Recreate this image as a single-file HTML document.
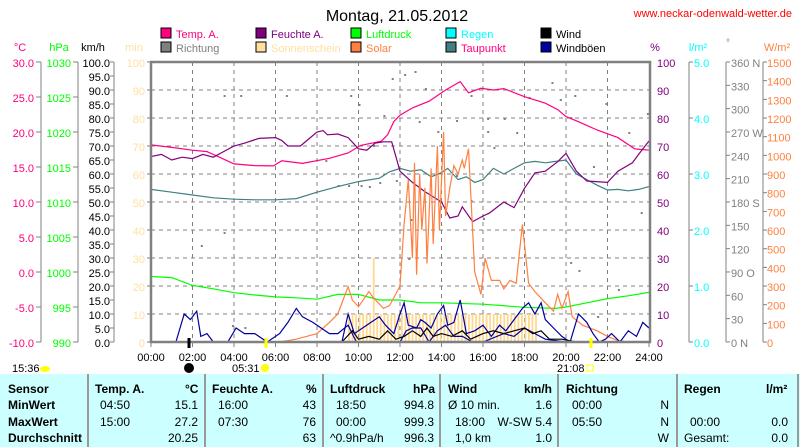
<!DOCTYPE html>
<html><head><meta charset="utf-8"><style>
body{margin:0;background:#fff;width:800px;height:447px;overflow:hidden;font-family:"Liberation Sans",sans-serif}
svg text{font-family:"Liberation Sans",sans-serif}
#tbl{position:absolute;left:0;top:374px;width:800px;height:73px;background:#ccffff}
#tbl div{position:absolute;font-size:12px;color:#000;white-space:nowrap}
.b{font-weight:bold}
.sep{position:absolute;top:0;width:2px;height:73px;background:#999}
</style></head><body>
<svg id="s" width="800" height="374" style="position:absolute;left:0;top:0" xmlns="http://www.w3.org/2000/svg"></svg>
<div id="tbl">
<div class="sep" style="left:87px"></div><div class="sep" style="left:204px"></div><div class="sep" style="left:322px"></div><div class="sep" style="left:439px"></div><div class="sep" style="left:557px"></div><div class="sep" style="left:676px"></div><div class="sep" style="left:797px"></div>
<div class="b" style="left:8px;top:8px">Sensor</div><div class="b" style="left:8px;top:24px">MinWert</div><div class="b" style="left:8px;top:41px">MaxWert</div><div class="b" style="left:8px;top:57px">Durchschnitt</div>
<div class="b" style="left:95px;top:8px">Temp. A.</div><div class="b" style="left:185px;top:8px">°C</div>
<div style="left:100px;top:24px">04:50</div><div style="right:602px;top:24px">15.1</div>
<div style="left:100px;top:41px">15:00</div><div style="right:602px;top:41px">27.2</div>
<div style="right:602px;top:57px">20.25</div>
<div class="b" style="left:212px;top:8px">Feuchte A.</div><div class="b" style="left:306px;top:8px">%</div>
<div style="left:218px;top:24px">16:00</div><div style="right:484px;top:24px">43</div>
<div style="left:218px;top:41px">07:30</div><div style="right:484px;top:41px">76</div>
<div style="right:484px;top:57px">63</div>
<div class="b" style="left:330px;top:8px">Luftdruck</div><div class="b" style="left:413px;top:8px">hPa</div>
<div style="left:336px;top:24px">18:50</div><div style="right:366px;top:24px">994.8</div>
<div style="left:336px;top:41px">00:00</div><div style="right:366px;top:41px">999.3</div>
<div style="left:330px;top:57px">^0.9hPa/h</div><div style="right:366px;top:57px">996.3</div>
<div class="b" style="left:448px;top:8px">Wind</div><div class="b" style="left:524px;top:8px">km/h</div>
<div style="left:448px;top:24px">Ø 10 min.</div><div style="right:248px;top:24px">1.6</div>
<div style="left:455px;top:41px">18:00</div><div style="right:248px;top:41px">W-SW 5.4</div>
<div style="left:455px;top:57px">1,0 km</div><div style="right:248px;top:57px">1.0</div>
<div class="b" style="left:566px;top:8px">Richtung</div>
<div style="left:572px;top:24px">00:00</div><div style="right:131px;top:24px">N</div>
<div style="left:572px;top:41px">05:50</div><div style="right:131px;top:41px">N</div>
<div style="right:131px;top:57px">W</div>
<div class="b" style="left:684px;top:8px">Regen</div><div class="b" style="left:766px;top:8px">l/m²</div>
<div style="left:690px;top:41px">00:00</div><div style="right:12px;top:41px">0.0</div>
<div style="left:684px;top:57px">Gesamt:</div><div style="right:12px;top:57px">0.0</div>
</div>
<script>
const S=document.getElementById('s');let h='';
const X=t=>151+t*20.75, Y=v=>342-v*2.8;
function T(x,y,s,c,a,fs){h+=`<text x="${x}" y="${y}" fill="${c}" font-size="${fs||11}" text-anchor="${a||'start'}">${s}</text>`;}
function L(x1,y1,x2,y2,c,w,d){h+=`<line x1="${x1}" y1="${y1}" x2="${x2}" y2="${y2}" stroke="${c}" stroke-width="${w||1}" ${d?'stroke-dasharray="'+d+'"':''}/>`;}
function P(a,c){h+=`<polyline fill="none" stroke="${c}" stroke-width="1.2" points="${a.map(p=>X(p[0]).toFixed(1)+','+Y(p[1]).toFixed(1)).join(' ')}"/>`;}
T(397,21,'Montag, 21.05.2012','#000','middle',16);
T(792,17,'www.neckar-odenwald-wetter.de','#f00','end',11);
const lg=[[161,37,'#ff0080','Temp. A.','#ff0080'],[256,37,'#800080','Feuchte A.','#800080'],[351,37,'#00ff00','Luftdruck','#00ff00'],[446,37,'#00ffff','Regen','#00ffff'],[541,37,'#000','Wind','#000'],
[161,51,'#808080','Richtung','#808080'],[256,51,'#ffe0a0','Sonnenschein','#ffe0a0'],[351,51,'#ff8040','Solar','#ff8040'],[446,51,'#408080','Taupunkt','#ff0080'],[541,51,'#0000a0','Windböen','#000']];
lg.forEach(l=>{h+=`<rect x="${l[0]}" y="${l[1]-9}" width="10" height="10" fill="${l[2]}" stroke="#000"/>`;T(l[0]+15,l[1]+1,l[3],l[4]);});
T(20,51,'°C','#ff0080','middle');T(59,51,'hPa','#00ff00','middle');T(93,51,'km/h','#000','middle');T(134,51,'min','#ffe0a0','middle');
T(655,51,'%','#800080','middle');T(698,51,'l/m²','#00ffff','middle');T(728,46,'°','#808080','middle',10);T(777,51,'W/m²','#ff8040','middle');
L(41,62,41,342,'#808080');L(78,62,78,342,'#808080');L(114,62,114,342,'#808080');
for(let i=0;i<=8;i++){let y=62+i*35;T(34,y+5,(30-i*5).toFixed(1),'#ff0080','end');L(36,y,41,y,'#808080');T(71,y+5,1030-i*5,'#00ff00','end');L(73,y,78,y,'#808080');}
for(let i=0;i<=20;i++){let y=62+i*14;T(110,y+5,(100-i*5).toFixed(1),'#000','end');L(110,y,114,y,'#808080');}
for(let i=0;i<=10;i++){let y=62+i*28;T(145,y+5,100-i*10,'#ffe0a0','end');L(147,y,151,y,'#808080');T(657,y+5,100-i*10,'#800080');}
L(689,62,689,342,'#808080');for(let i=0;i<=5;i++){let y=62+i*56;L(689,y,693,y,'#808080');T(694,y+5,(5-i).toFixed(1),'#00ffff');}
L(726,62,726,342,'#808080');const dl={360:'360 N',270:'270 W',180:'180 S',90:'90 O',0:'0 N'};for(let i=0;i<=12;i++){let y=62+i*23.33,v=360-i*30;L(726,y,730,y,'#808080');T(731,y+5,dl[v]||v,'#808080');}
L(763,62,763,342,'#808080');for(let i=0;i<=15;i++){let y=62+i*18.67;L(763,y,767,y,'#808080');T(767,y+5,1500-i*100,'#ff8040');}
for(let i=1;i<10;i++)L(151,62+i*28,650,62+i*28,'#808080',1,'4,4');
for(let i=1;i<12;i++)L(X(i*2),62,X(i*2),342,'#808080',1,'4,4');
for(let i=0;i<=12;i++){L(X(i*2),342,X(i*2),347,'#808080');T(X(i*2),361,String(i*2).padStart(2,'0')+':00','#000','middle');}
const dots=[[2.4,245],[3.5,232],[3.9,325],[4.5,327],[3.5,95],[4.3,95],[6.5,95],[9.6,95],[10.0,104],[9.0,185],[9.5,185],[10.1,185],[10.5,186],[11,182],[11.8,180],[10.7,145],[11.2,115],[11.6,78],[12.2,74],[12.7,71],[13.2,88],[12.9,121],[13.8,131],[14.7,120],[15.4,95],[16.2,118],[17,118],[17.6,132],[18.2,97],[19.3,82],[19.7,99],[20.2,117],[20.4,95],[21.3,166],[21.9,103],[23.0,132],[23.6,212],[23.9,113],[22.5,289],[21.5,316],[20.2,262],[20.6,270],[12.5,219],[8.4,160],[12.4,258],[14.7,175],[15.4,200],[16,218],[16.5,147],[16.2,131]];
dots.forEach(d=>h+=`<rect x="${X(d[0])}" y="${d[1]}" width="2" height="2" fill="#808080"/>`);
for(let t=9.5;t<18.6;t+=0.17){let v=(t>10.65&&t<10.8)?30:10;h+=`<rect x="${X(t)}" y="${Y(v)}" width="1.8" height="${v*2.8}" fill="#ffd890"/>`;}
P([[0,23.4],[1,23],[2,20.2],[3,19],[4,17.6],[5,16.8],[6,16.1],[7,15.8],[8,15.3],[9,17],[10,17],[10.5,16],[11,15],[12,15],[13,14],[14,14],[16,13.5],[18,12.4],[19.5,12],[20,12.5],[21,14],[22,15.5],[23,16.5],[24,17.7]],'#00ff00');
P([[0,54.5],[1,53.5],[2,52.5],[3,51.5],[4,51],[5,50.8],[6,50.8],[7,51.2],[8,53.5],[9,55.5],[10,57.3],[11,58.5],[11.5,60.8],[12,62],[12.5,61],[13,61.5],[13.5,59],[14,60.5],[14.3,62],[14.8,58],[15.2,59],[15.6,57],[16,58],[16.5,62],[17,60],[17.5,62],[18,64],[18.5,64.5],[19,64],[19.5,64.5],[20,65],[20.5,60],[21,58],[21.5,56],[22,54.3],[22.5,54.5],[23,54],[23.5,54.5],[24,55.5]],'#408080');
P([[0,70.4],[1,69.5],[2,68.5],[2.7,68],[3.3,66],[4,63.6],[5,63],[5.9,62.9],[6.3,64.7],[7.3,63.8],[8.6,65.6],[9.5,67.5],[10.1,70.2],[11.1,71.7],[11.4,74],[11.7,78.7],[12,81],[12.6,83.6],[13.4,86],[14.2,90],[14.9,93],[15.3,89],[15.9,90.6],[16.5,90],[17,90.5],[18,87.6],[19,85.3],[19.6,83],[20,80.5],[20.5,79],[21.5,75.7],[22.5,73],[23.3,69],[24,68.5]],'#ff0080');
P([[0,66.2],[0.5,67],[1,65],[1.5,66],[2,65.5],[2.5,67],[3,66],[3.5,68],[4,70],[4.5,71],[5.2,72.7],[6,73],[6.3,72],[6.6,70],[7.2,70],[7.6,72.5],[8,75],[8.3,75.5],[8.5,74],[9,74.3],[9.5,73],[10,69],[10.4,68.5],[10.8,71],[11.2,71.5],[11.6,71.5],[12,61],[12.3,59],[12.6,57],[13.2,53.7],[14,50],[14.4,44.3],[14.8,45],[15,48.3],[15.5,43],[16,45],[16.3,46],[17,50],[17.5,48],[18,54.9],[18.5,60.4],[19,61],[19.6,64.4],[20,67.4],[20.5,61],[21,57.5],[22,57],[22.5,61],[23.2,64],[23.6,68],[24,71.8]],'#800080');
P([[6.2,0],[7,1],[8,3],[8.6,7],[9,10],[9.5,19.8],[9.7,15],[10,12.6],[10.5,18],[10.7,16],[11.2,12],[11.5,13],[12,20],[12.2,42],[12.4,58],[12.6,30],[12.7,64],[12.8,24],[12.95,60],[13.05,40],[13.2,55],[13.3,28],[13.5,62],[13.6,35],[13.8,70],[13.9,40],[14.1,75],[14.2,45],[14.4,55],[14.6,63],[14.8,60],[15.0,65],[15.1,62],[15.3,69],[15.6,25],[15.9,17],[16.1,30],[16.4,22],[16.8,22],[17,19],[17.3,22],[17.6,21],[17.9,42],[18.2,21],[18.5,18],[19,14],[19.4,11],[19.6,17],[19.8,12],[20.1,18],[20.3,9],[20.8,6],[21.5,4],[22,2],[22.5,0.5],[23,0]],'#ff8040');
P([[0,0],[1.2,0],[1.6,10],[1.9,8],[2.2,11],[2.4,2],[2.7,3],[3,0],[3.7,0],[4.1,5],[4.5,3],[5,3],[5.6,0],[6.2,3],[6.6,7],[7,12],[7.3,9],[7.8,7],[8.2,5],[8.6,3],[9,3],[9.5,6],[9.9,0],[10,0],[10.5,0],[11,0],[12,0],[12.3,4],[12.6,5],[13,5],[13.4,0],[13.8,4],[14.2,6],[14.6,2],[15,2],[15.5,0],[16,0],[17,3],[17.5,2],[18,5],[18.5,3],[19,1],[20,0],[21,0],[24,0]],'#0000a0');
P([[8.6,0],[9.2,0],[9.5,10],[9.8,3],[10.2,5],[10.6,7],[11,9],[11.3,6],[11.7,3],[12,10],[12.2,14],[12.4,6],[12.8,5],[13,8],[13.2,7],[13.5,5],[13.8,10],[14.1,13],[14.3,6],[14.6,7],[14.9,15],[15.2,3],[15.6,4],[16,6],[16.4,2],[16.8,6],[17.1,4],[17.5,8],[17.9,12],[18.2,14],[18.5,10],[18.8,14],[19,8],[19.4,5],[19.8,2],[20.2,0],[20.6,10],[21,7],[21.3,3],[21.6,0],[21.9,1],[22.2,3],[22.6,0],[23,4],[23.4,2],[23.7,7],[24,5]],'#0000a0');
P([[9.2,0],[9.7,4],[10,1],[10.5,2],[11,1],[11.4,4],[11.8,1],[12.2,2],[12.6,4],[13,2],[13.3,5],[13.6,2],[14,3],[14.5,2],[15,4],[15.4,1],[16,3],[16.5,4],[17,3],[17.5,4],[18,5],[18.4,3],[18.8,4],[19.2,1],[19.8,1],[20.5,0],[24,0]],'#000');
h+=`<rect x="151" y="62" width="499" height="280" fill="none" stroke="#808080" stroke-width="2.5"/>`;
L(189,338,189,348,'#000',3);L(266,338,266,348,'#ffff00',3);L(591,338,591,348,'#ffff00',3);
T(12,372,'15:36','#000');h+=`<ellipse cx="45" cy="369" rx="5" ry="3" fill="#ffff00"/>`;
h+=`<circle cx="189" cy="368" r="5" fill="#000"/>`;T(232,372,'05:31','#000');h+=`<circle cx="265" cy="368" r="4" fill="#ffff00"/>`;
T(557,372,'21:08','#000');h+=`<rect x="587" y="365" width="6" height="6" fill="none" stroke="#ffff00"/>`;
S.innerHTML=h;
</script>
</body></html>
